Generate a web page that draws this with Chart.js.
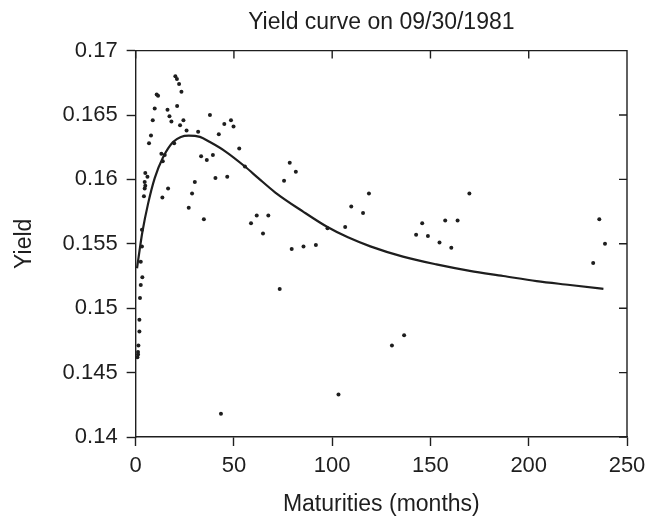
<!DOCTYPE html>
<html>
<head>
<meta charset="utf-8">
<title>Yield curve on 09/30/1981</title>
<script src="https://cdn.jsdelivr.net/npm/chart.js@4/dist/chart.umd.min.js"></script>
<style>
  html, body { margin: 0; padding: 0; background: #ffffff; }
  #wrap { width: 646px; height: 518px; }
</style>
</head>
<body>
<div id="wrap"><canvas id="yc" width="646" height="518"></canvas></div>
<script>
// Observed yields by maturity (months)
const maturities = [
  20.2, 21.0, 22.1, 23.3, 10.7, 11.4, 9.7, 21.1, 16.2, 17.2,
  18.2, 24.3, 8.7, 22.6, 25.9, 31.8, 37.8, 45.1, 48.5, 49.8,
  42.3, 7.8, 6.8, 19.6, 13.1, 14.8, 13.8, 52.7, 33.3, 39.3,
  36.2, 55.6, 4.9, 6.0, 4.6, 4.9, 4.6, 4.2, 13.6, 16.5,
  40.6, 46.6, 30.1, 28.7, 27.0, 34.7, 61.6, 67.5, 58.7, 64.8,
  3.2, 3.2, 2.6, 3.4, 2.6, 2.2, 1.9, 1.9, 1.4, 1.2,
  1.2, 0.9, 43.4, 78.4, 81.5, 75.5, 73.3, 79.4, 85.4, 91.7,
  97.6, 106.6, 109.7, 115.7, 118.7, 103.2, 130.4, 136.6, 142.7, 145.8,
  148.7, 154.6, 157.5, 160.6, 163.8, 169.8, 235.9, 238.8, 232.8
];
const yields = [
  0.1680, 0.1678, 0.1674, 0.1668, 0.1666, 0.1665, 0.1655, 0.1657, 0.1654, 0.1649,
  0.1645, 0.1646, 0.1646, 0.1642, 0.1638, 0.1637, 0.1650, 0.1643, 0.1646, 0.1641,
  0.1635, 0.1634, 0.1628, 0.1628, 0.1620, 0.1619, 0.1614, 0.1624, 0.1618, 0.1619,
  0.1615, 0.1610, 0.1605, 0.1602, 0.1598, 0.1595, 0.1593, 0.1587, 0.1586, 0.1593,
  0.1601, 0.1602, 0.1598, 0.1589, 0.1578, 0.1569, 0.1572, 0.1572, 0.1566, 0.1558,
  0.1561, 0.1548, 0.1536, 0.1524, 0.1518, 0.1508, 0.1491, 0.1482, 0.1471, 0.1466,
  0.1464, 0.1462, 0.1418, 0.1613, 0.1606, 0.1599, 0.1515, 0.1546, 0.1548, 0.1549,
  0.1562, 0.1563, 0.1579, 0.1574, 0.1589, 0.1433, 0.1471, 0.1479, 0.1557, 0.1566,
  0.1556, 0.1551, 0.1568, 0.1547, 0.1568, 0.1589, 0.1569, 0.1550, 0.1535
];

// Fitted yield curve
const fitMaturities = [
  0.7, 2, 3.4, 6.3, 9.7, 13.9, 19, 23, 27, 32.7,
  37.8, 45.4, 55.6, 62.4, 70.9, 85.2, 97.6, 108, 119.4, 136,
  153, 170, 187, 204, 221, 238
];
const fitYields = [
  0.1531, 0.1545, 0.1559, 0.1581, 0.1601, 0.1617, 0.1629, 0.1633, 0.1634, 0.1633,
  0.1629, 0.1622, 0.1610, 0.1601, 0.1590, 0.1575, 0.1563, 0.1555, 0.1548, 0.1540,
  0.1534, 0.1529, 0.1525, 0.1521, 0.1518, 0.1515
];

// Axis ticks
const xTicks = [0, 50, 100, 150, 200, 250];
const yTickLabels = ['0.14', '0.145', '0.15', '0.155', '0.16', '0.165', '0.17'];
const yTicks = yTickLabels.map(Number);

const chartTitle = 'Yield curve on 09/30/1981';
const ink = '#1e1e1e';
const fontFamily = '"Liberation Sans", Arial, Helvetica, sans-serif';

// Closes the plot box on the top and right and adds inward tick marks there
const boxFrame = {
  id: 'boxFrame',
  afterDraw(chart) {
    const { ctx, chartArea: a, scales } = chart;
    const len = 8;
    ctx.save();
    ctx.strokeStyle = ink;
    ctx.lineWidth = 1.4;
    ctx.beginPath();
    ctx.moveTo(a.left, a.top);
    ctx.lineTo(a.right, a.top);
    ctx.lineTo(a.right, a.bottom);
    xTicks.forEach(v => {
      const px = scales.x.getPixelForValue(v);
      ctx.moveTo(px, a.top);
      ctx.lineTo(px, a.top + len);
    });
    yTicks.forEach(v => {
      const py = scales.y.getPixelForValue(v);
      ctx.moveTo(a.right, py);
      ctx.lineTo(a.right - len, py);
    });
    ctx.stroke();
    ctx.restore();
  }
};

new Chart(document.getElementById('yc'), {
  type: 'scatter',
  data: {
    datasets: [
      {
        type: 'line',
        label: 'Fitted curve',
        data: fitMaturities.map((m, i) => ({ x: m, y: fitYields[i] })),
        borderColor: ink,
        borderWidth: 2.2,
        pointRadius: 0,
        cubicInterpolationMode: 'monotone',
        fill: false
      },
      {
        label: 'Observed yields',
        data: maturities.map((m, i) => ({ x: m, y: yields[i] })),
        backgroundColor: ink,
        borderWidth: 0,
        pointRadius: 2,
        pointHoverRadius: 2
      }
    ]
  },
  options: {
    responsive: false,
    devicePixelRatio: 1,
    animation: false,
    layout: { padding: 0 },
    plugins: {
      legend: { display: false },
      tooltip: { enabled: false },
      title: { display: false }
    },
    scales: {
      // top axis only carries the chart title, centred over the plot box
      top: {
        type: 'linear',
        position: 'top',
        min: 0,
        max: 250,
        ticks: { display: false },
        grid: { display: false, drawTicks: false },
        border: { display: false },
        title: {
          display: true,
          text: chartTitle,
          color: ink,
          font: { family: fontFamily, size: 23 },
          padding: { top: 9, bottom: 14 }
        }
      },
      x: {
        type: 'linear',
        position: 'bottom',
        min: 0,
        max: 250,
        afterBuildTicks: s => { s.ticks = xTicks.map(v => ({ value: v })); },
        // let the last tick label overhang the canvas margin a little
        afterFit: s => { s.paddingRight = 19; },
        ticks: {
          color: ink,
          padding: 7,
          font: { family: fontFamily, size: 22 },
          callback: v => String(v)
        },
        grid: { drawOnChartArea: false, drawTicks: true, tickLength: 9, tickColor: ink, tickWidth: 1.4 },
        border: { display: true, color: ink, width: 1.4 },
        title: {
          display: true,
          text: 'Maturities (months)',
          color: ink,
          font: { family: fontFamily, size: 23 },
          padding: { top: 4, bottom: 0 }
        }
      },
      y: {
        type: 'linear',
        min: 0.14,
        max: 0.17,
        afterBuildTicks: s => { s.ticks = yTicks.map(v => ({ value: v })); },
        ticks: {
          color: ink,
          padding: 9,
          font: { family: fontFamily, size: 22 },
          callback: (v, i) => yTickLabels[i]
        },
        grid: { drawOnChartArea: false, drawTicks: true, tickLength: 9, tickColor: ink, tickWidth: 1.4 },
        border: { display: true, color: ink, width: 1.4 },
        title: {
          display: true,
          text: 'Yield',
          color: ink,
          font: { family: fontFamily, size: 23 },
          padding: { top: 11, bottom: 15 }
        }
      }
    }
  },
  plugins: [boxFrame]
});
</script>
</body>
</html>
